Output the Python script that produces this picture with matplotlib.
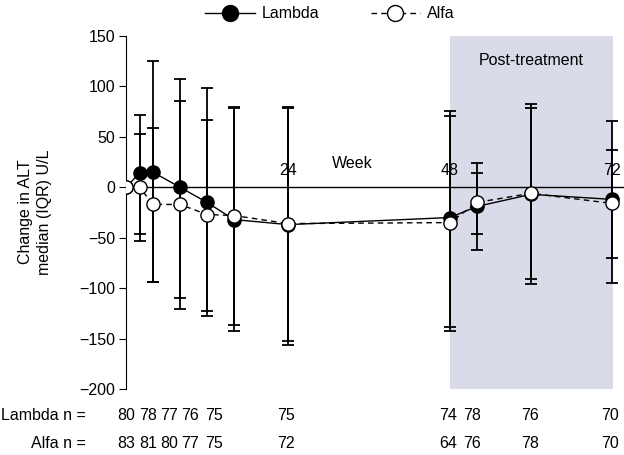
import matplotlib
matplotlib.use("Agg")
import matplotlib.pyplot as plt
import matplotlib.transforms as mtransforms
import numpy as np
from matplotlib.lines import Line2D

plt.rcParams['font.family'] = ['Liberation Sans', 'DejaVu Sans']
FS = 11.5

weeks = [0, 2, 4, 8, 12, 16, 24, 48, 52, 60, 72]
lambda_med = [0, 14, 15, 0, -15, -32, -37, -30, -19, -7, -12]
lambda_q1 = [0, -53, -94, -121, -128, -142, -156, -142, -62, -96, -95]
lambda_q3 = [0, 72, 125, 107, 98, 80, 80, 76, 24, 83, 66]
alfa_med = [0, 0, -17, -17, -27, -28, -36, -35, -15, -6, -16]
alfa_q1 = [0, -46, -94, -110, -123, -137, -152, -139, -46, -91, -70]
alfa_q3 = [0, 53, 59, 86, 67, 79, 79, 71, 14, 79, 37]
lambda_n = ["80", "78", "77", "76", "75", "75", "74", "78", "76", "70"]
alfa_n = ["83", "81", "80", "77", "75", "72", "64", "76", "78", "70"]
n_label_pos = [0, 3.3, 6.4, 9.5, 13, 23.7, 47.7, 51.3, 59.9, 71.7]
week_ticks = [24, 48, 72]

fig = plt.figure(figsize=(6.24, 4.55), dpi=100)
ax = fig.add_axes([126/624, 1-389/455, 1-126/624, (389-36)/455])
ax.set_xlim(0, (624-126)/6.75)
ax.set_ylim(-200, 150)

ax.axvspan(48, 72.2, color='#d9dce8', zorder=0, lw=0)
ax.axhline(0, color='black', lw=1.0, zorder=1)

w = np.array(weeks)
for med, q1, q3 in [(lambda_med, lambda_q1, lambda_q3), (alfa_med, alfa_q1, alfa_q3)]:
    med = np.array(med); q1 = np.array(q1); q3 = np.array(q3)
    ax.errorbar(w[1:], med[1:], yerr=[med[1:]-q1[1:], q3[1:]-med[1:]], fmt='none',
                ecolor='black', elinewidth=1.3, capsize=4, capthick=1.3, zorder=2)

ax.plot(weeks, lambda_med, '-', color='black', lw=1.0, marker='o', ms=9.5,
        mfc='black', mec='black', mew=1.0, zorder=3)
ax.plot(weeks, alfa_med, '--', color='black', lw=1.0, marker='o', ms=9.5,
        mfc='white', mec='black', mew=1.0, zorder=4, dashes=(4, 3))

for t in week_ticks:
    ax.text(t, 17, str(t), ha='center', va='center', fontsize=FS)
ax.text(33.5, 24, 'Week', ha='center', va='center', fontsize=FS)
ax.text(60.1, 126, 'Post-treatment', ha='center', va='center', fontsize=FS)

ax.spines['top'].set_visible(False)
ax.spines['right'].set_visible(False)
ax.spines['bottom'].set_visible(False)
ax.set_xticks([])
ax.set_yticks([150, 100, 50, 0, -50, -100, -150, -200])
ax.tick_params(axis='y', direction='out', length=5, labelsize=FS, pad=3)

fig.text(35/624, 1-212/455, 'Change in ALT\nmedian (IQR) U/L', rotation=90,
         ha='center', va='center', fontsize=FS, multialignment='center',
         linespacing=1.4)

bt = mtransforms.blended_transform_factory(ax.transData, fig.transFigure)
for pos, s in zip(n_label_pos, lambda_n):
    ax.text(pos, 1-415/455, s, transform=bt, ha='center', va='center', fontsize=FS, clip_on=False)
for pos, s in zip(n_label_pos, alfa_n):
    ax.text(pos, 1-443/455, s, transform=bt, ha='center', va='center', fontsize=FS, clip_on=False)
fig.text(86/624, 1-415/455, 'Lambda n =', ha='right', va='center', fontsize=FS)
fig.text(86/624, 1-443/455, 'Alfa n =', ha='right', va='center', fontsize=FS)

h1 = Line2D([], [], color='black', ls='-', lw=1.0, marker='o', ms=11.5, mfc='black', mec='black')
h2 = Line2D([], [], color='black', ls='--', lw=1.0, marker='o', ms=11.5, mfc='white', mec='black', dashes=(4, 3))
fig.legend([h1, h2], ['Lambda', 'Alfa'], loc='center', bbox_to_anchor=(0.529, 1-14/455),
           ncol=2, frameon=False, fontsize=FS, handlelength=3.1, columnspacing=3.2,
           handletextpad=0.45)

fig.savefig('out.png', dpi=100)
